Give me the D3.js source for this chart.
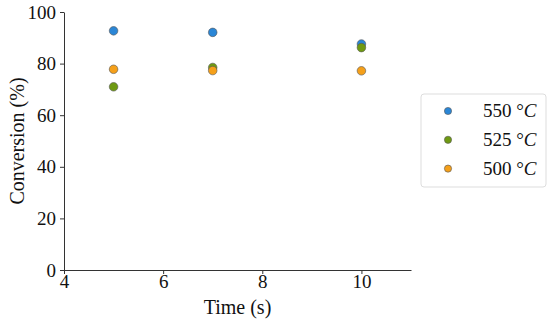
<!DOCTYPE html>
<html lang="en">
<head>
    <meta charset="UTF-8">
    <title>Conversion vs Time</title>
    <script src="https://d3js.org/d3.v7.min.js"></script>
    <style>
        body {
            margin: 0;
            background-color: white;
            font-family: "Liberation Serif", "DejaVu Serif", serif;
        }
        .axis path, .axis line {
            stroke: #333;
        }
        .axis text {
            font-family: "Liberation Serif", serif;
            font-size: 19px;
            fill: #111;
        }
    </style>
</head>
<body>
    <div id="chart"></div>
    <script>
        // Data
        const times = [5, 7, 10];
        const series = ["550", "525", "500"];
        const conv550 = [92.7, 92.1, 87.6];
        const conv525 = [71.0, 78.5, 86.2];
        const conv500 = [77.8, 77.3, 77.2];
        const colors = ["#2a86d6", "#6f9a12", "#f5a01a"];
        const xTicks = [4, 6, 8, 10];
        const yTicks = [0, 20, 40, 60, 80, 100];

        const values = [conv550, conv525, conv500];

        const W = 550, H = 323;
        const margin = {top: 12, right: 139, bottom: 53, left: 64};
        const width = W - margin.left - margin.right,
              height = H - margin.top - margin.bottom;

        const svgRoot = d3.select("#chart").append("svg")
            .attr("width", W)
            .attr("height", H);

        const svg = svgRoot.append("g")
            .attr("transform", `translate(${margin.left},${margin.top})`);

        const x = d3.scaleLinear().domain([4, 11]).range([0, width]);
        const y = d3.scaleLinear().domain([0, 100]).range([height, 0]);

        // Axes
        svg.append("g")
            .attr("class", "axis")
            .attr("transform", `translate(0,${height})`)
            .call(d3.axisBottom(x).tickValues(xTicks).tickFormat(d3.format("d")).tickSize(4).tickSizeOuter(0))
            .selectAll("text").attr("dy", "0.6em");

        svg.append("g")
            .attr("class", "axis")
            .call(d3.axisLeft(y).tickValues(yTicks).tickFormat(d3.format("d")).tickSize(4).tickSizeOuter(0))
            .selectAll("text").attr("dx", "-0.05em");

        // Axis labels
        svg.append("text")
            .attr("x", width / 2)
            .attr("y", height + 44)
            .attr("text-anchor", "middle")
            .style("font-size", "20px")
            .attr("fill", "#111")
            .text("Time (s)");

        svg.append("text")
            .attr("transform", `translate(${-40},${height / 2}) rotate(-90)`)
            .attr("text-anchor", "middle")
            .style("font-size", "20px")
            .attr("fill", "#111")
            .text("Conversion (%)");

        // Points
        series.forEach((s, i) => {
            svg.selectAll(".dot" + s)
                .data(times.map((t, j) => ({t: t, v: values[i][j]})))
                .enter()
                .append("circle")
                .attr("cx", d => x(d.t))
                .attr("cy", d => y(d.v))
                .attr("r", 4.3)
                .attr("fill", colors[i])
                .attr("stroke", "#555")
                .attr("stroke-width", 0.6);
        });

        // Legend
        const legend = svgRoot.append("g")
            .attr("transform", "translate(421,94)");

        legend.append("rect")
            .attr("width", 125)
            .attr("height", 93)
            .attr("rx", 3)
            .attr("fill", "white")
            .attr("stroke", "#ddd")
            .attr("stroke-width", 1);

        series.forEach((s, i) => {
            const row = legend.append("g")
                .attr("transform", `translate(0,${17 + i * 28.8})`);
            row.append("circle")
                .attr("cx", 27)
                .attr("cy", 0)
                .attr("r", 3.6)
                .attr("fill", colors[i])
                .attr("stroke", "#555")
                .attr("stroke-width", 0.6);
            const t = row.append("text")
                .attr("x", 62)
                .attr("y", 6)
                .style("font-size", "19px")
                .attr("fill", "#111");
            t.append("tspan").text(s + " °");
            t.append("tspan").style("font-style", "italic").text("C");
        });
    </script>
</body>
</html>
